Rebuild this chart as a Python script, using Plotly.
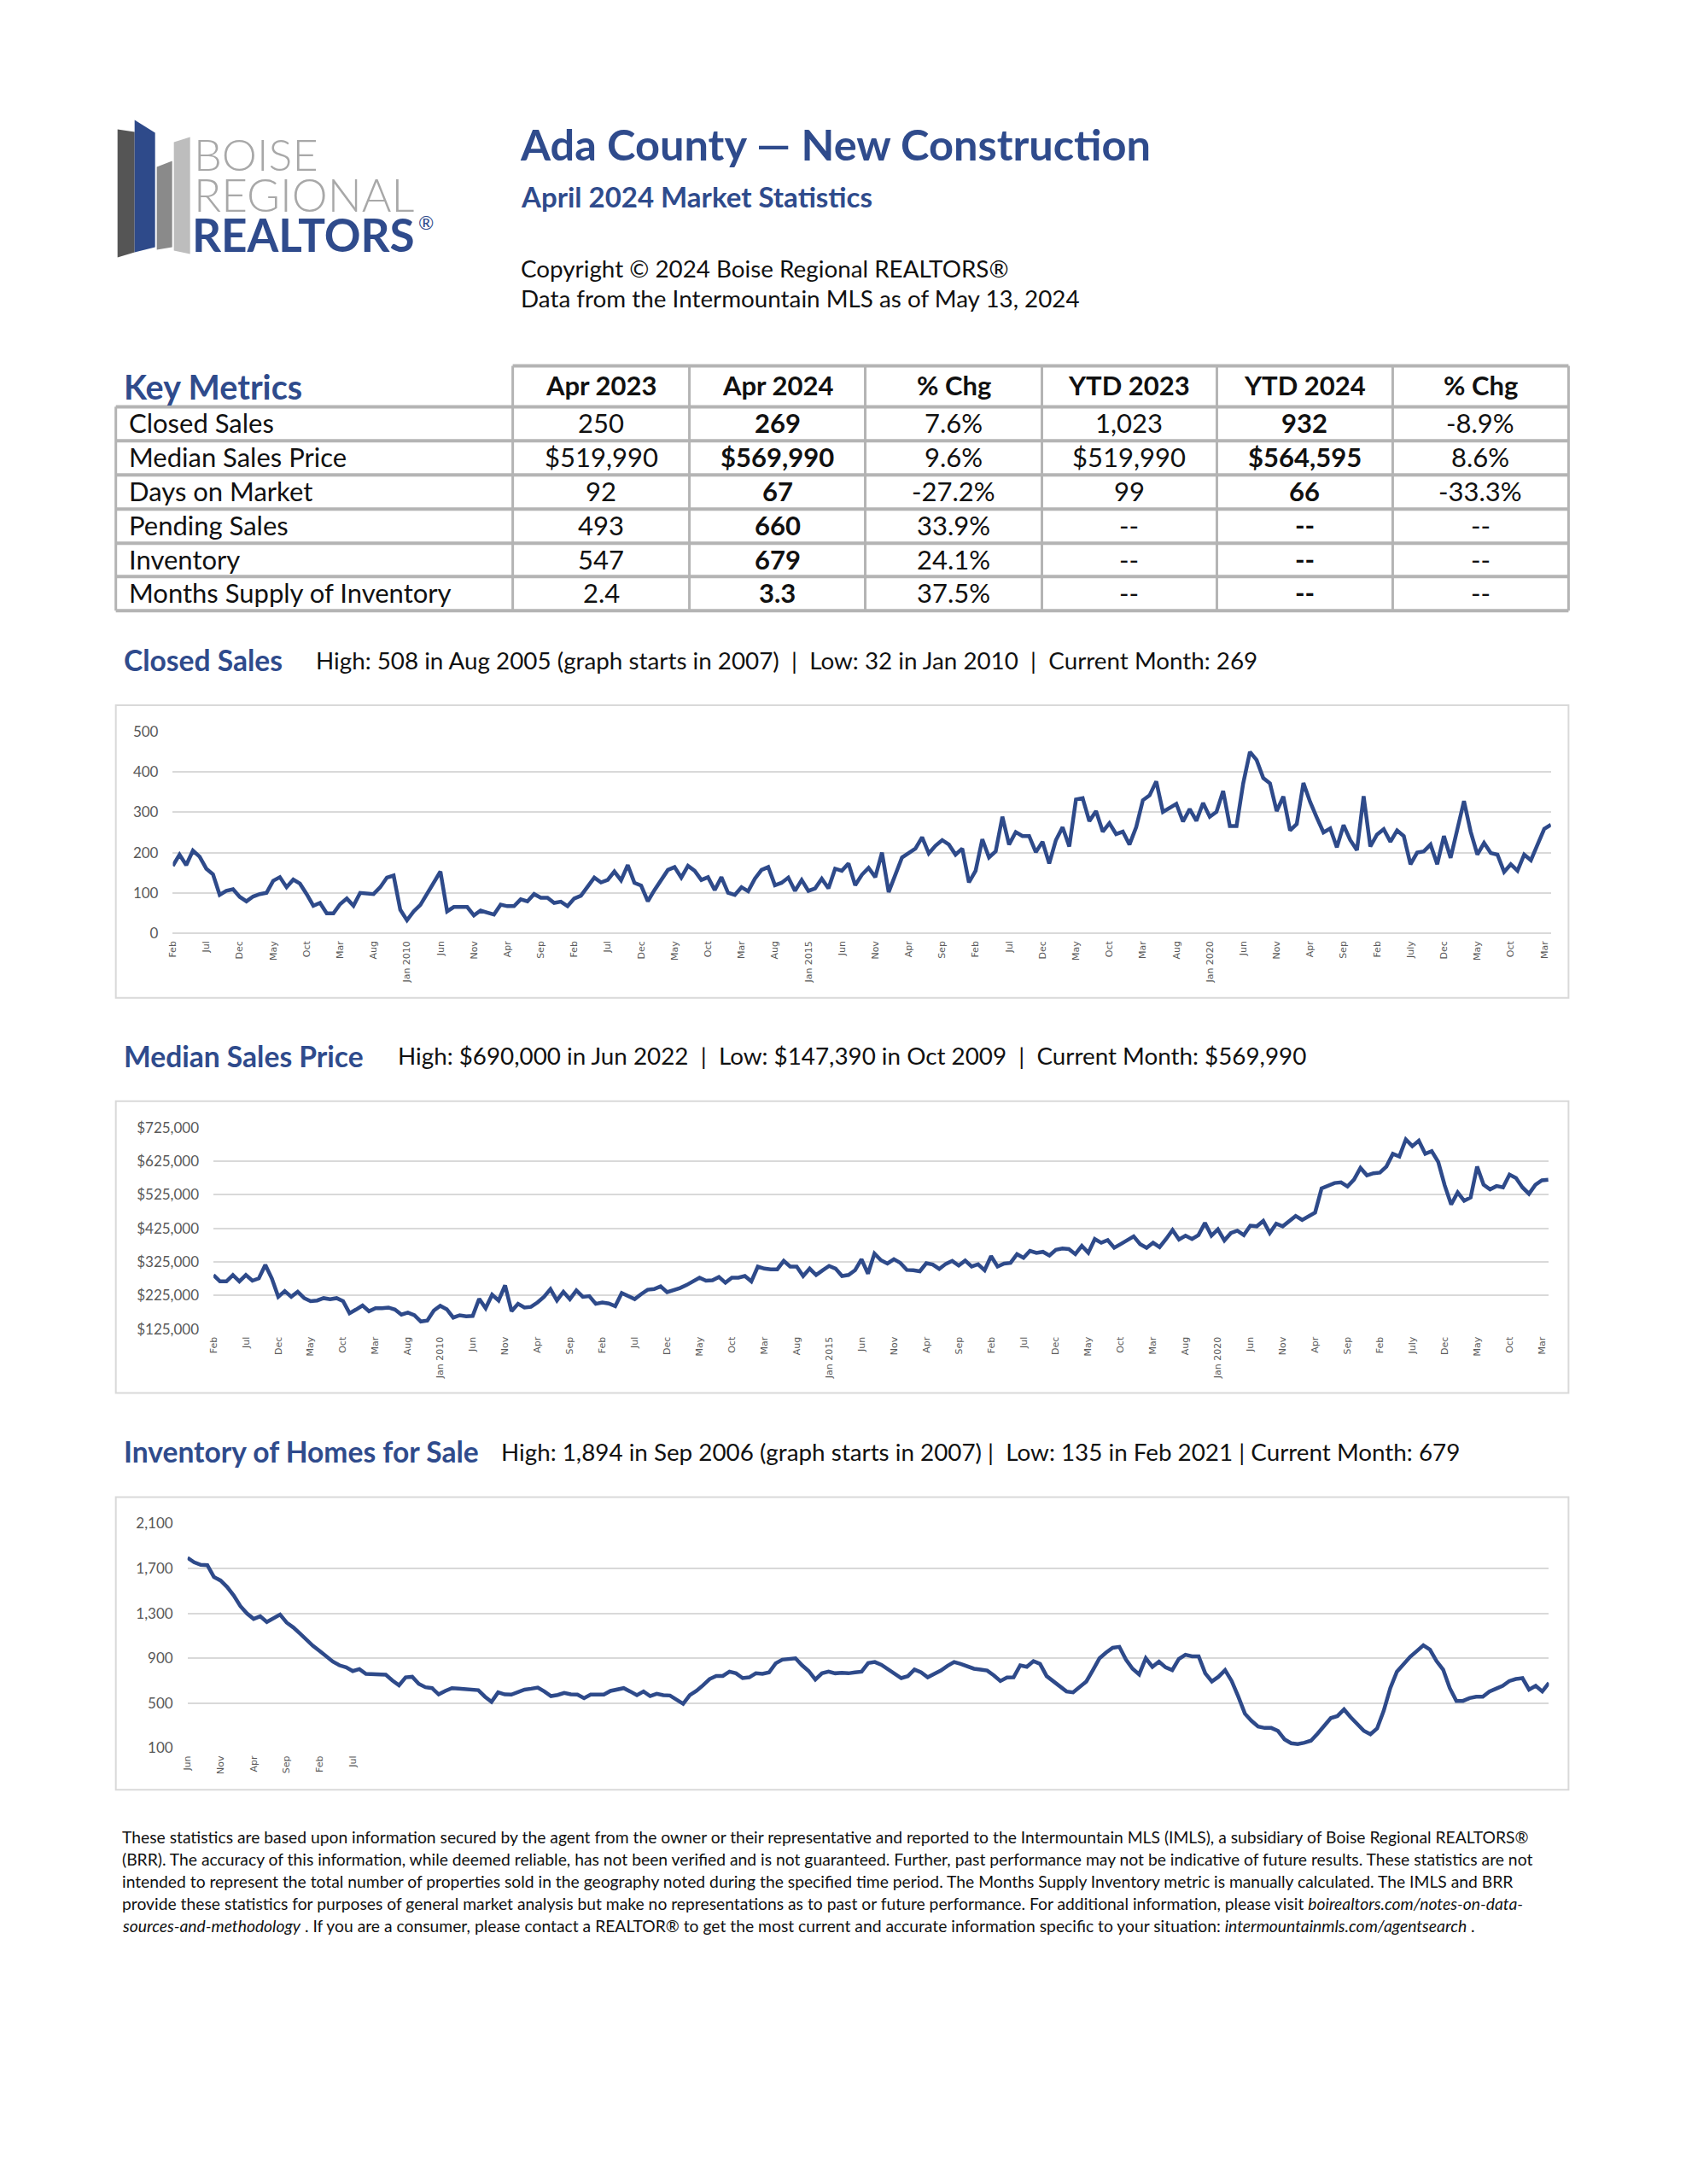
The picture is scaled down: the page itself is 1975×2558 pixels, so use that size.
"""Ada County new construction market report page, rebuilt with Plotly."""
import plotly.graph_objects as go

W, H = 1975, 2558
PAGE_MARGIN = 8  # default <body> margin of the written page
FW, FH = W - 2 * PAGE_MARGIN, H - 2 * PAGE_MARGIN
BLUE = "#2F4B8C"
LINE_BLUE = "#2E4A8A"
GRID = "#D9D9D9"
BORDER = "#B4B4B4"
TEXT = "#111111"
AXIS_TEXT = "#595959"
FONT = "Lato, 'Noto Sans', sans-serif"

# ---- data -----------------------------------------------------------------
TABLE_COLUMNS = ["Apr 2023", "Apr 2024", "% Chg", "YTD 2023", "YTD 2024", "% Chg"]
TABLE_ROWS = ["Closed Sales", "Median Sales Price", "Days on Market",
              "Pending Sales", "Inventory", "Months Supply of Inventory"]
TABLE_VALUES = [
    ["250", "269", "7.6%", "1,023", "932", "-8.9%"],
    ["$519,990", "$569,990", "9.6%", "$519,990", "$564,595", "8.6%"],
    ["92", "67", "-27.2%", "99", "66", "-33.3%"],
    ["493", "660", "33.9%", "--", "--", "--"],
    ["547", "679", "24.1%", "--", "--", "--"],
    ["2.4", "3.3", "37.5%", "--", "--", "--"],
]
BOLD_COLUMNS = [1, 4]

# monthly, Feb 2007 .. Apr 2024
CLOSED_SALES = [
    167, 195, 169, 205, 190, 160, 146, 95, 105, 109,
    90, 79, 91, 97, 100, 130, 139, 114, 133, 123,
    97, 68, 75, 49, 49, 72, 86, 68, 100, 98,
    97, 114, 138, 143, 58, 32, 54, 70, 98, 125,
    153, 54, 65, 65, 65, 44, 56, 51, 46, 71,
    67, 67, 84, 79, 97, 88, 88, 75, 78, 67,
    86, 93, 114, 138, 126, 132, 153, 131, 169, 125,
    118, 79, 107, 134, 157, 164, 138, 167, 155, 132,
    139, 107, 139, 100, 95, 114, 104, 135, 157, 164,
    119, 125, 138, 105, 132, 105, 111, 135, 111, 160,
    155, 173, 119, 145, 162, 139, 200, 102, 146, 188,
    199, 210, 238, 198, 217, 231, 220, 195, 210, 126,
    155, 233, 188, 203, 289, 220, 251, 241, 241, 201,
    227, 173, 231, 263, 215, 332, 335, 278, 303, 252,
    273, 246, 252, 220, 263, 330, 342, 377, 301, 312,
    321, 277, 308, 279, 323, 289, 301, 353, 266, 266,
    372, 450, 430, 385, 372, 303, 339, 255, 271, 373,
    326, 287, 250, 260, 213, 268, 231, 206, 340, 215,
    245, 258, 227, 255, 241, 171, 200, 203, 220, 171,
    241, 187, 259, 328, 252, 195, 224, 199, 195, 152,
    171, 155, 195, 181, 220, 259, 269,
]

MEDIAN_PRICE = [
    286000, 267000, 267000, 286000, 267000, 286000, 269000, 276000, 316000, 276000,
    221000, 238000, 221000, 236000, 217000, 208000, 210000, 217000, 214000, 217000,
    208000, 172000, 183000, 195000, 178000, 187000, 187000, 189000, 183000, 168000,
    174000, 166000, 147390, 150000, 180000, 194000, 184000, 159000, 166000, 163000,
    164000, 215000, 187000, 227000, 210000, 255000, 178000, 200000, 189000, 191000,
    204000, 221000, 244000, 210000, 236000, 214000, 240000, 221000, 223000, 200000,
    204000, 201000, 193000, 232000, 223000, 214000, 229000, 242000, 244000, 252000,
    235000, 240000, 247000, 256000, 267000, 278000, 269000, 270000, 280000, 263000,
    278000, 278000, 283000, 267000, 311000, 305000, 303000, 303000, 328000, 311000,
    311000, 283000, 305000, 286000, 300000, 313000, 305000, 283000, 286000, 300000,
    333000, 290000, 350000, 330000, 320000, 333000, 322000, 301000, 300000, 297000,
    321000, 317000, 304000, 319000, 328000, 314000, 329000, 311000, 318000, 300000,
    342000, 311000, 320000, 322000, 348000, 337000, 358000, 352000, 355000, 344000,
    361000, 365000, 363000, 348000, 373000, 352000, 393000, 382000, 390000, 367000,
    378000, 390000, 401000, 378000, 367000, 382000, 369000, 393000, 420000, 392000,
    403000, 393000, 405000, 441000, 403000, 422000, 389000, 411000, 418000, 405000,
    433000, 431000, 447000, 411000, 439000, 431000, 447000, 462000, 450000, 462000,
    472000, 544000, 553000, 560000, 562000, 550000, 570000, 605000, 583000, 589000,
    591000, 609000, 647000, 639000, 690000, 670000, 686000, 647000, 655000, 623000,
    553000, 496000, 532000, 507000, 517000, 609000, 555000, 541000, 551000, 547000,
    585000, 575000, 547000, 528000, 555000, 568000, 569990,
]

INVENTORY = [
    1795, 1755, 1732, 1729, 1623, 1592, 1534, 1458, 1364, 1298,
    1250, 1273, 1222, 1255, 1288, 1217, 1174, 1120, 1059, 1009,
    963, 912, 869, 836, 818, 785, 803, 760, 755, 752,
    752, 701, 658, 729, 734, 671, 641, 633, 577, 608,
    633, 628, 625, 620, 615, 557, 511, 595, 577, 575,
    595, 620, 628, 638, 603, 562, 572, 590, 577, 575,
    544, 575, 575, 575, 608, 620, 633, 603, 570, 603,
    562, 582, 570, 567, 531, 493, 570, 608, 658, 714,
    742, 742, 780, 765, 722, 729, 765, 760, 773, 854,
    887, 892, 899, 836, 785, 709, 765, 780, 765, 770,
    765, 773, 780, 856, 866, 841, 798, 760, 722, 740,
    798, 773, 729, 760, 790, 831, 866, 849, 828, 806,
    798, 790, 747, 696, 727, 729, 836, 823, 874, 849,
    740, 692, 645, 603, 595, 641, 692, 793, 899, 950,
    993, 1001, 887, 806, 755, 899, 823, 869, 818, 793,
    892, 930, 917, 917, 765, 692, 734, 793, 696, 557,
    405, 341, 290, 278, 278, 252, 176, 142, 135, 146,
    165, 227, 303, 366, 384, 443, 374, 316, 252, 222,
    273, 430, 633, 780, 849, 912, 963, 1014, 976, 874,
    798, 633, 519, 519, 544, 557, 557, 603, 628, 653,
    696, 714, 722, 620, 653, 603, 679,
]

# one label every fifth month, starting Feb 2007
MONTH_TICKS = [
    "Feb", "Jul", "Dec", "May", "Oct", "Mar", "Aug", "Jan 2010", "Jun", "Nov",
    "Apr", "Sep", "Feb", "Jul", "Dec", "May", "Oct", "Mar", "Aug", "Jan 2015",
    "Jun", "Nov", "Apr", "Sep", "Feb", "Jul", "Dec", "May", "Oct", "Mar",
    "Aug", "Jan 2020", "Jun", "Nov", "Apr", "Sep", "Feb", "July", "Dec", "May",
    "Oct", "Mar",
]
# the inventory chart only carries the first few labels
INV_TICKS = ["Jun", "Nov", "Apr", "Sep", "Feb", "Jul"]

STATS = {
    "Closed Sales": "High: 508 in Aug 2005 (graph starts in 2007)\u00a0 |\u00a0 Low: 32 in Jan 2010\u00a0 |\u00a0 Current Month: 269",
    "Median Sales Price": "High: $690,000 in Jun 2022\u00a0 |\u00a0 Low: $147,390 in Oct 2009\u00a0 |\u00a0 Current Month: $569,990",
    "Inventory of Homes for Sale": "High: 1,894 in Sep 2006 (graph starts in 2007) |\u00a0 Low: 135 in Feb 2021 | Current Month: 679",
}

FOOTER = [
    "These statistics are based upon information secured by the agent from the owner or their representative and reported to the Intermountain MLS (IMLS), a subsidiary of Boise Regional REALTORS®",
    "(BRR). The accuracy of this information, while deemed reliable, has not been verified and is not guaranteed. Further, past performance may not be indicative of future results. These statistics are not",
    "intended to represent the total number of properties sold in the geography noted during the specified time period. The Months Supply Inventory metric is manually calculated. The IMLS and BRR",
    "provide these statistics for purposes of general market analysis but make no representations as to past or future performance. For additional information, please visit <i>boirealtors.com/notes-on-data-</i>",
    "<i>sources-and-methodology</i> . If you are a consumer, please contact a REALTOR® to get the most current and accurate information specific to your situation: <i>intermountainmls.com/agentsearch</i> .",
]


# page pixel -> paper fraction (figure sits inside the body margin);
# small stretch compensates for how the page ends up photographed
def fx(px):
    px = px + 0.0029 * (px - 1837)
    return (px - PAGE_MARGIN) / FW


def fy(py):
    py = py + 0.0076 * (py - 1240)
    return 1 - (py - PAGE_MARGIN) / FH


annotations = []
shapes = []


def add_text(x, y, s, size, color=TEXT, anchor="left", weight=None):
    font = dict(family=FONT, size=size, color=color)
    if weight is not None:
        font["weight"] = weight
    annotations.append(dict(
        x=fx(x), y=fy(y), xref="paper", yref="paper", text=s,
        showarrow=False, xanchor=anchor, yanchor="middle", font=font,
    ))


def add_line(x0, y0, x1, y1, color=BORDER, width=3):
    shapes.append(dict(type="line", xref="paper", yref="paper",
                       x0=fx(x0), y0=fy(y0), x1=fx(x1), y1=fy(y1),
                       line=dict(color=color, width=width)))


def add_poly(points, color):
    path = "M " + " L ".join(f"{fx(a):.5f},{fy(b):.5f}" for a, b in points) + " Z"
    shapes.append(dict(type="path", xref="paper", yref="paper", path=path,
                       fillcolor=color, line=dict(width=0)))


# ---- header: logo and titles ---------------------------------------------
add_poly([(137, 150), (157, 153), (157, 294), (137, 300)], "#555555")
add_poly([(157, 139), (181, 154), (181, 288), (157, 294)], LINE_BLUE)
add_poly([(183, 194), (201, 187), (201, 288), (183, 291)], "#8A8A8A")
add_poly([(203, 165), (222, 159), (222, 296), (203, 292)], "#BDBDBD")

add_text(224, 178, "BOISE", 52, color="#A8A8A8", weight=300)
add_text(224, 226, "REGIONAL", 53, color="#A8A8A8", weight=300)
add_text(222, 273, "<b>REALTORS</b>", 53, color=BLUE)
add_text(487, 259, "®", 22, color=BLUE)

add_text(606, 167, "<b>Ada County — New Construction</b>", 50.5, color=BLUE)
add_text(607, 228, "<b>April 2024 Market Statistics</b>", 33, color=BLUE)
add_text(607, 313, "Copyright © 2024 Boise Regional REALTORS®", 27.8)
add_text(607, 348, "Data from the Intermountain MLS as of May 13, 2024", 27.8)

# ---- key metrics table ----------------------------------------------------
col_edges = [135, 600, 807, 1013, 1220, 1425, 1631, 1837]
row_edges = [427, 475, 515, 555, 595, 635, 674, 714]

add_text(142, 451, "<b>Key Metrics</b>", 39.5, color=BLUE)
for y in row_edges[1:]:
    add_line(col_edges[0], y, col_edges[-1], y, width=4)
add_line(col_edges[1], row_edges[0], col_edges[-1], row_edges[0], width=4)
add_line(col_edges[0], row_edges[1], col_edges[0], row_edges[-1], width=3)
for x in col_edges[1:]:
    add_line(x, row_edges[0], x, row_edges[-1], width=3)

for c, name in enumerate(TABLE_COLUMNS):
    xc = (col_edges[c + 1] + col_edges[c + 2]) / 2
    add_text(xc, 450, f"<b>{name}</b>", 31, anchor="center")
for r, label in enumerate(TABLE_ROWS):
    yc = (row_edges[r + 1] + row_edges[r + 2]) / 2 - 1
    add_text(148, yc, label, 31)
    for c, val in enumerate(TABLE_VALUES[r]):
        xc = (col_edges[c + 1] + col_edges[c + 2]) / 2
        s = f"<b>{val}</b>" if c in BOLD_COLUMNS else val
        add_text(xc, yc, s, 31, anchor="center")

# ---- chart sections ---------------------------------------------------------
sections = [
    # title, heading y, stats x, box top/bottom, plot x0/x1, plot y bottom/top
    ("Closed Sales", 772, 367, 825, 1168, 201.8, 1816.4, 1092, 856),
    ("Median Sales Price", 1236, 463, 1289, 1631, 249.4, 1813.4, 1556, 1320),
    ("Inventory of Homes for Sale", 1700, 584, 1753, 2096, 219, 1814, 2047, 1784),
]
for title, hy, sx, bt, bb, *_ in sections:
    add_text(142, hy, f"<b>{title}</b>", 33.6, color=BLUE)
    add_text(sx, hy, STATS[title], 27.8)
    shapes.append(dict(type="rect", xref="paper", yref="paper",
                       x0=fx(135), x1=fx(1837), y0=fy(bb), y1=fy(bt),
                       line=dict(color=GRID, width=2), fillcolor="rgba(0,0,0,0)"))

for i, line in enumerate(FOOTER):
    add_text(140, 2151 + i * 26.2, line, 19.3)

series = [CLOSED_SALES, MEDIAN_PRICE, INVENTORY]
y_setups = [
    dict(range=[0, 500], tick0=0, dtick=100, tickformat=","),
    dict(range=[125000, 725000], tick0=125000, dtick=100000, tickformat="$,.0f"),
    dict(range=[100, 2100], tick0=100, dtick=400, tickformat=","),
]
x_ticks = [
    (list(range(0, 206, 5)), MONTH_TICKS),
    (list(range(0, 206, 5)), MONTH_TICKS),
    (list(range(0, 30, 5)), INV_TICKS),
]

fig = go.Figure()
layout_axes = {}
for k, (values, ysetup, (tv, tt), sec) in enumerate(zip(series, y_setups, x_ticks, sections)):
    n = "" if k == 0 else str(k + 1)
    x0, x1, yb, yt = sec[5], sec[6], sec[7], sec[8]
    fig.add_trace(go.Scatter(
        x=list(range(len(values))), y=values, mode="lines",
        line=dict(color=LINE_BLUE, width=4.5), xaxis="x" + n, yaxis="y" + n,
        showlegend=False, hoverinfo="skip",
    ))
    layout_axes["xaxis" + n] = dict(
        domain=[fx(x0), fx(x1)], range=[0, len(values) - 1], anchor="y" + n,
        tickmode="array", tickvals=tv, ticktext=tt, tickangle=-90,
        tickfont=dict(family="DejaVu Sans, sans-serif", size=11, color=AXIS_TEXT),
        showgrid=False, zeroline=False, showline=False, ticks="",
        ticklabelstandoff=6, fixedrange=True,
    )
    layout_axes["yaxis" + n] = dict(
        domain=[fy(yb), fy(yt)], anchor="x" + n, tickmode="linear",
        tickfont=dict(family=FONT, size=17, color=AXIS_TEXT),
        showgrid=True, gridcolor=GRID, gridwidth=2,
        zeroline=True, zerolinecolor=GRID, zerolinewidth=2,
        showline=False, ticks="", ticklabelstandoff=16, fixedrange=True,
        **ysetup,
    )

fig.update_layout(
    width=FW, height=FH, autosize=False,
    margin=dict(l=0, r=0, t=0, b=0),
    paper_bgcolor="white", plot_bgcolor="white",
    font=dict(family=FONT, color=TEXT),
    annotations=annotations, shapes=shapes,
    **layout_axes,
)

fig.write_html("out.html", config={"displayModeBar": False})
